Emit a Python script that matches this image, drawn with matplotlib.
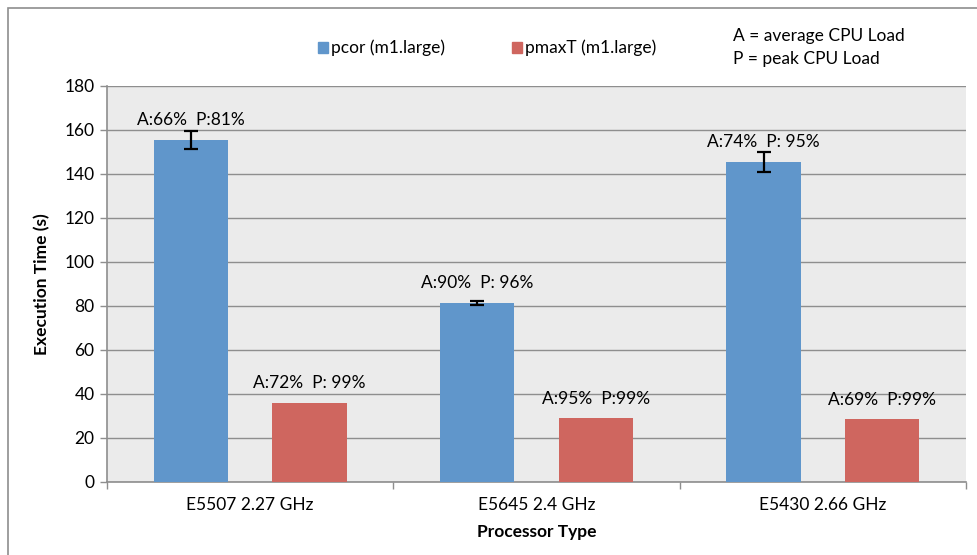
import matplotlib
matplotlib.use("Agg")
import matplotlib.pyplot as plt
import numpy as np
from matplotlib.patches import Patch, Rectangle

plt.rcParams['font.family'] = ['Lato', 'DejaVu Sans']

categories = ["E5507 2.27 GHz", "E5645 2.4 GHz", "E5430 2.66 GHz"]
series_names = ["pcor (m1.large)", "pmaxT (m1.large)"]
pcor = [155.5, 81.5, 145.5]
pcor_err = [4.0, 1.0, 4.5]
pmaxt = [36, 29, 28.5]
pcor_labels = ["A:66%  P:81%", "A:90%  P: 96%", "A:74%  P: 95%"]
pmaxt_labels = ["A:72%  P: 99%", "A:95%  P:99%", "A:69%  P:99%"]
y_ticks = [0, 20, 40, 60, 80, 100, 120, 140, 160, 180]

blue = "#6096CB"
red = "#CF665F"
grid_c = "#8E8E8E"
spine_c = "#8E8E8E"
fs = 12.5

fig = plt.figure(figsize=(9.77, 5.55), dpi=100)
ax = fig.add_axes([107/977, 1-482/555, (966-107)/977, (482-86)/555])
ax.set_facecolor("#EBEBEB")

x = np.arange(len(categories))
w = 0.26
off = 0.207
ax.bar(x - off, pcor, w, color=blue, zorder=3)
ax.errorbar(x - off, pcor, yerr=pcor_err, fmt='none', ecolor='black',
            elinewidth=1.6, capsize=5, capthick=1.6, zorder=4)
ax.bar(x + off, pmaxt, w, color=red, zorder=3)

for xi, v, t in zip(x - off, pcor, pcor_labels):
    ax.annotate(t, (xi, v), xytext=(0, 14), textcoords='offset points',
                ha='center', va='center', fontsize=fs, color='black')
for xi, v, t in zip(x + off, pmaxt, pmaxt_labels):
    ax.annotate(t, (xi, v), xytext=(0, 14), textcoords='offset points',
                ha='center', va='center', fontsize=fs, color='black')

ax.set_xlim(-0.5, len(categories) - 0.5)
ax.set_ylim(0, 180)
ax.set_yticks(y_ticks)
ax.yaxis.grid(True, color=grid_c, linewidth=1.0, zorder=0)
ax.set_axisbelow(True)

ax.set_xticks(x)
ax.set_xticklabels(categories, fontsize=fs)
ax.tick_params(axis='x', which='major', length=0, pad=11)
ax.set_xticks(np.arange(len(categories) + 1) - 0.5, minor=True)
ax.tick_params(axis='x', which='minor', length=5, color=spine_c, width=1)
ax.tick_params(axis='y', length=5, color=spine_c, width=1, labelsize=fs, pad=4)

for s in ['top', 'right']:
    ax.spines[s].set_visible(False)
for s in ['left', 'bottom']:
    ax.spines[s].set_color(spine_c)
    ax.spines[s].set_linewidth(1.2)

ax.set_ylabel("Execution Time (s)", fontsize=fs, fontweight='bold', labelpad=10)
ax.set_xlabel("Processor Type", fontsize=fs, fontweight='bold', labelpad=8)

handles = [Patch(color=blue), Patch(color=red)]
fig.legend(handles, series_names, loc='center', bbox_to_anchor=(487/977, 1-48/555),
           ncol=2, frameon=False, fontsize=fs, handlelength=0.6, handleheight=0.6,
           handletextpad=0.15, columnspacing=3.85)

fig.text(733/977, 1-36/555, "A = average CPU Load", fontsize=fs, va='center', ha='left')
fig.text(733/977, 1-59/555, "P = peak CPU Load", fontsize=fs, va='center', ha='left')

# chart frame
fig.add_artist(Rectangle((8/977, -0.1), 1.2, 1 - 8/555 + 0.1, transform=fig.transFigure,
                         fill=False, edgecolor="#8E8E8E", linewidth=1.2))

fig.savefig("out.png", dpi=100, facecolor='white')
